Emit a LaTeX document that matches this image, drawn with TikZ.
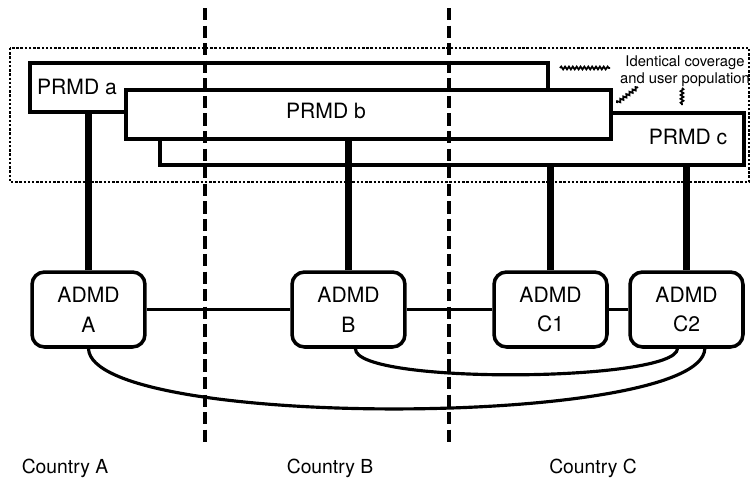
\documentclass[tikz,border=0pt]{standalone}
\usepackage{fontspec}
\setmainfont{TeX Gyre Heros}
\usetikzlibrary{decorations.pathmorphing}

\tikzset{
  prmd/.style={draw, line width=2pt, fill=white, rectangle, inner sep=0pt, minimum height=0.98cm},
  admd/.style={draw, line width=2pt, rounded corners=0.25cm, minimum width=2.26cm, minimum height=1.5cm, align=center, font=\fontsize{12}{17}\selectfont},
  trunk/.style={line width=4.5pt},
  link/.style={line width=1.8pt},
  divider/.style={line width=2pt, dash pattern=on 7pt off 3pt},
  zone/.style={line width=1.4pt, densely dotted},
  squiggle/.style={decorate, decoration={snake, amplitude=0.8pt, segment length=2.2pt}, line width=1pt},
  lbl/.style={font=\fontsize{12}{14}\selectfont},
  cty/.style={font=\fontsize{11}{13}\selectfont}
}

\begin{document}
\begin{tikzpicture}[x=0.02cm, y=-0.02cm]
	\useasboundingbox (0,0) rectangle (751,480);
	% Coverage area and PRMDs:
	\draw[zone] (10,48) rectangle (749,182);
	\node[prmd, minimum width=11.68cm, minimum height=1.04cm] (prmdC) at (452,139){};
	\node[prmd, minimum width=10.36cm] (prmdA) at (289,87.5){};
	\node[prmd, minimum width=9.7cm] (prmdB) at (368.5,114.5){};
	\node[lbl] (labA) at (77,87){PRMD a};
	\node[lbl] (labB) at (326,111){PRMD b};
	\node[lbl] (labC) at (688,137){PRMD c};
	\node[font=\fontsize{8.4}{9.7}\selectfont, align=center] (note) at (685,71){Identical coverage\\and user population};
	\draw[squiggle] (560,68) -- (610,68);
	\draw[squiggle] (617,103) -- (638,87);
	\draw[squiggle] (682,88) -- (682,105);
	% Country borders:
	\draw[divider] (205,8) -- (205,445);
	\draw[divider] (449,8) -- (449,445);
	% ADMDs:
	\node[admd] (admdA) at (88.5,309.5){ADMD\\A};
	\node[admd] (admdB) at (348.5,309.5){ADMD\\B};
	\node[admd] (admdC1) at (550.5,309.5){ADMD\\C1};
	\node[admd] (admdC2) at (686.5,309.5){ADMD\\C2};
	\draw[trunk] (admdA.north) -- (admdA.north |- prmdA.south);
	\draw[trunk] (admdB.north) -- (admdB.north |- prmdB.south);
	\draw[trunk] (admdC1.north) -- (admdC1.north |- prmdC.south);
	\draw[trunk] (admdC2.north) -- (admdC2.north |- prmdC.south);
	\draw[link] (admdA.east) -- (admdB.west);
	\draw[link] (admdB.east) -- (admdC1.west);
	\draw[link] (admdC1.east) -- (admdC2.west);
	\draw[link] (admdB.-80) .. controls (355,385) and (676,382) .. (admdC2.-103);
	\draw[link] (admdA.south) .. controls (92,430) and (702,428) .. (admdC2.-65);
	% Countries:
	\node[cty] (ctyA) at (65,468){Country A};
	\node[cty] (ctyB) at (330,468){Country B};
	\node[cty] (ctyC) at (593,468){Country C};
\end{tikzpicture}
\end{document}
